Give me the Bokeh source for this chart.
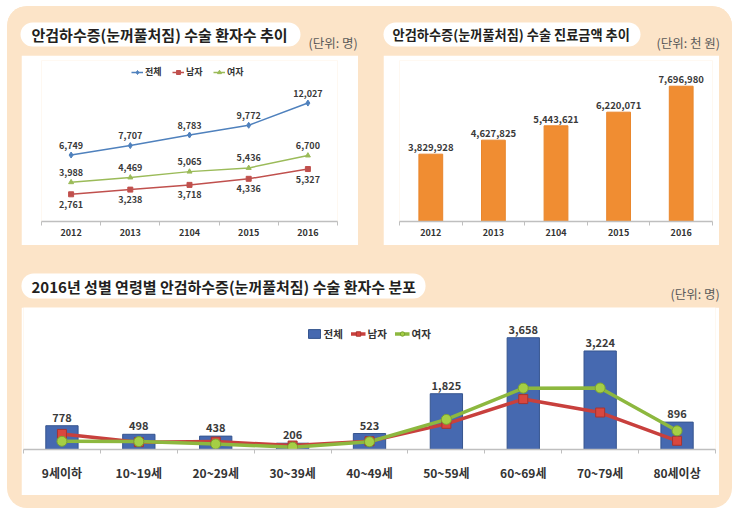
from bokeh.plotting import figure
from bokeh.models import Range1d, FixedTicker, ColumnDataSource, Legend, LegendItem, Spacer
from bokeh.layouts import column, row
from bokeh.embed import file_html
from bokeh.resources import INLINE
from bokeh.core.properties import value

# ---------------- data ----------------
years = ["2012", "2013", "2104", "2015", "2016"]
patients_total = [6749, 7707, 8783, 9772, 12027]
patients_male = [2761, 3238, 3718, 4336, 5327]
patients_female = [3988, 4469, 5065, 5436, 6700]

cost_thousand_won = [3829928, 4627825, 5443621, 6220071, 7696980]

age_groups = ["9세이하", "10~19세", "20~29세", "30~39세", "40~49세",
              "50~59세", "60~69세", "70~79세", "80세이상"]
age_total = [778, 498, 438, 206, 523, 1825, 3658, 3224, 896]
age_male = [510, 240, 258, 130, 270, 840, 1650, 1210, 285]
age_female = [268, 258, 180, 76, 253, 985, 2008, 2014, 611]

title_1 = "안검하수증(눈꺼풀처짐) 수술 환자수 추이"
title_2 = "안검하수증(눈꺼풀처짐) 수술 진료금액 추이"
title_3 = "2016년 성별 연령별 안검하수증(눈꺼풀처짐) 수술 환자수 분포"
unit_people = "(단위: 명)"
unit_money = "(단위: 천 원)"
legend_labels = ["전체", "남자", "여자"]

# ---------------- style ----------------
KFONT = "Noto Sans CJK KR"
PEACH = "#FCE4C8"
BLUE = "#4F81BD"
RED = "#C0504D"
GREEN = "#9BBB59"
LABEL = "#3A3A3A"
AXIS = "#BFBFBF"


def fmt(v):
    return f"{v:,}"


def base_chart(w, h, n, ymax, bl, br, bt, bb):
    p = figure(width=w, height=h, x_range=Range1d(-0.5, n - 0.5), y_range=Range1d(0, ymax),
               output_backend="svg", toolbar_location=None, y_axis_location=None,
               min_border_left=bl, min_border_right=br, min_border_top=bt, min_border_bottom=bb,
               background_fill_color="white", border_fill_color="white", outline_line_color=None)
    p.grid.visible = False
    return p


def style_axis(p, labels, size, standoff):
    n = len(labels)
    ax = p.xaxis[0]
    ax.ticker = FixedTicker(ticks=list(range(n)), minor_ticks=[i - 0.5 for i in range(n + 1)])
    ax.major_label_overrides = {i: lab for i, lab in enumerate(labels)}
    ax.major_tick_line_color = None
    ax.major_tick_out = 0
    ax.major_tick_in = 0
    ax.minor_tick_line_color = AXIS
    ax.minor_tick_out = 4
    ax.minor_tick_in = 0
    ax.axis_line_color = AXIS
    ax.axis_line_width = 1.5
    ax.major_label_standoff = standoff
    ax.major_label_text_font = KFONT
    ax.major_label_text_font_size = size
    ax.major_label_text_font_style = "bold"
    ax.major_label_text_color = "#333333"


def deco(w, h, x0, y0):
    f = figure(width=w, height=h, x_range=Range1d(x0, x0 + w), y_range=Range1d(y0 + h, y0),
               output_backend="svg", toolbar_location=None, x_axis_location=None,
               y_axis_location=None, min_border=0, min_border_left=0, min_border_right=0,
               min_border_top=0, min_border_bottom=0,
               background_fill_color=PEACH, border_fill_color=PEACH, outline_line_color=None)
    f.grid.visible = False
    return f


# ---------------- chart 1: patients trend ----------------
n1 = len(years)
s1 = ColumnDataSource(dict(
    x=list(range(n1)), total=patients_total, male=patients_male, female=patients_female,
    tl=[fmt(v) for v in patients_total], ml=[fmt(v) for v in patients_male],
    fl=[fmt(v) for v in patients_female]))

c1 = base_chart(337, 190, n1, 16350, 20, 21, 5, 24)
style_axis(c1, years, "9px", 3)
lt = c1.line("x", "total", source=s1, line_color=BLUE, line_width=1.5)
mt = c1.scatter("x", "total", source=s1, marker="diamond", size=6, color=BLUE)
lm = c1.line("x", "male", source=s1, line_color=RED, line_width=1.5)
mm = c1.scatter("x", "male", source=s1, marker="square", size=5, color=RED)
lf = c1.line("x", "female", source=s1, line_color=GREEN, line_width=1.5)
mf = c1.scatter("x", "female", source=s1, marker="triangle", size=5, color=GREEN)
for col, lab, off in (("total", "tl", -10), ("male", "ml", 10), ("female", "fl", -10)):
    c1.text("x", col, text=lab, source=s1, y_offset=off, text_align="center",
            text_baseline="middle", text_font=value(KFONT), text_font_size="9px",
            text_font_style="bold", text_color=LABEL)
leg1 = Legend(items=[LegendItem(label=legend_labels[0], renderers=[lt, mt]),
                     LegendItem(label=legend_labels[1], renderers=[lm, mm]),
                     LegendItem(label=legend_labels[2], renderers=[lf, mf])],
              location="top_center", orientation="horizontal", margin=5, padding=0,
              glyph_width=12, glyph_height=10, label_height=10, label_standoff=2, spacing=7,
              label_text_font=KFONT, label_text_font_size="9px", label_text_font_style="bold",
              label_text_color="#333333", background_fill_alpha=0, border_line_color=None)
c1.add_layout(leg1)

# ---------------- chart 2: cost trend ----------------
s2 = ColumnDataSource(dict(x=list(range(n1)), cost=cost_thousand_won,
                           lab=[fmt(v) for v in cost_thousand_won]))
c2 = base_chart(336, 190, n1, 9160000, 16, 7, 5, 24)
style_axis(c2, years, "9px", 3)
c2.vbar(x="x", top="cost", source=s2, width=0.38, fill_color="#F08D32", line_color="#E9862C")
c2.text("x", "cost", text="lab", source=s2, y_offset=-3, text_align="center",
        text_baseline="bottom", text_font=value(KFONT), text_font_size="9.5px",
        text_font_style="bold", text_color=LABEL)

# ---------------- chart 3: by age 2016 ----------------
n3 = len(age_groups)
s3 = ColumnDataSource(dict(x=list(range(n3)), total=age_total, male=age_male, female=age_female,
                           lab=[fmt(v) for v in age_total]))
c3 = base_chart(698, 188, n3, 4647, 2, 4, 0, 46)
style_axis(c3, age_groups, "12px", 10)
rb = c3.vbar(x="x", top="total", source=s3, width=0.42, fill_color="#4669B0", line_color="#36558F")
rl = c3.line("x", "male", source=s3, line_color="#C8403D", line_width=3.5)
gl = c3.line("x", "female", source=s3, line_color="#8DB83F", line_width=3.5)
rs = c3.scatter("x", "male", source=s3, marker="square", size=9, fill_color="#D9473F",
                line_color="#A83430")
gs = c3.scatter("x", "female", source=s3, marker="circle", size=10, fill_color="#A5CF45",
                line_color="#7AA332")
c3.text("x", "total", text="lab", source=s3, y_offset=-4, text_align="center",
        text_baseline="bottom", text_font=value(KFONT), text_font_size="11px",
        text_font_style="bold", text_color=LABEL)
leg3 = Legend(items=[LegendItem(label=legend_labels[0], renderers=[rb]),
                     LegendItem(label=legend_labels[1], renderers=[rl, rs]),
                     LegendItem(label=legend_labels[2], renderers=[gl, gs])],
              location="top_center", orientation="horizontal", margin=19, padding=0,
              glyph_width=15, glyph_height=11, label_height=11, label_standoff=2, spacing=7,
              label_text_font=KFONT, label_text_font_size="10.5px", label_text_font_style="bold",
              label_text_color="#333333", background_fill_alpha=0, border_line_color=None)
c3.add_layout(leg3)

# ---------------- decoration rows (titles) ----------------
d1 = deco(725, 49, 7, 6)
d1.quad(left=[20, 383], right=[300, 640], top=[22, 22], bottom=[46, 46], border_radius=12,
        fill_color="white", line_color=None)
d1.text(x=[31], y=[34], text=[title_1], text_baseline="middle", text_align="left",
        text_font=value(KFONT), text_font_size="15px", text_font_style="bold",
        text_color="#231F20")
d1.text(x=[392], y=[34], text=[title_2], text_baseline="middle", text_align="left",
        text_font=value(KFONT), text_font_size="13.2px", text_font_style="bold",
        text_color="#231F20")
d1.text(x=[308, 656], y=[42, 42], text=[unit_people, unit_money], text_baseline="middle",
        text_align="left", text_font=value(KFONT), text_font_size="12.5px", text_color="#595959")

d2 = deco(725, 62, 7, 245)
d2.quad(left=[21], right=[425], top=[273], bottom=[298], border_radius=12,
        fill_color="white", line_color=None)
d2.text(x=[31], y=[286], text=[title_3], text_baseline="middle", text_align="left",
        text_font=value(KFONT), text_font_size="15px", text_font_style="bold",
        text_color="#231F20")
d2.text(x=[670], y=[293], text=[unit_people], text_baseline="middle", text_align="left",
        text_font=value(KFONT), text_font_size="12.5px", text_color="#595959")

root = column(
    d1,
    row(Spacer(width=14, height=190), c1, Spacer(width=25, height=190), c2,
        Spacer(width=13, height=190)),
    d2,
    row(Spacer(width=14, height=188), c3, Spacer(width=13, height=188)),
    Spacer(width=725, height=13),
    margin=(6, 0, 0, 7),
    styles={"background-color": PEACH, "border-radius": "20px", "overflow": "hidden"},
)

open("out.html", "w").write(file_html(root, INLINE))
